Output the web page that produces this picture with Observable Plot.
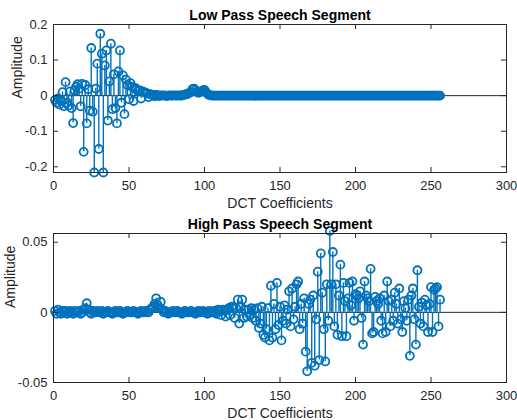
<!DOCTYPE html>
<html><head><meta charset="utf-8">
<script src="https://cdn.jsdelivr.net/npm/d3@7"></script>
<script src="https://cdn.jsdelivr.net/npm/@observablehq/plot@0.6"></script>
<style>body{margin:0;background:#fff;} #chart svg{display:block;}</style>
</head><body><div id="chart"></div>
<script>
const xTicks = [0, 50, 100, 150, 200, 250, 300];
const lowTicks = [-0.2, -0.1, 0, 0.1, 0.2];
const highTicks = [-0.05, 0, 0.05];
const lowTitle = "Low Pass Speech Segment";
const highTitle = "High Pass Speech Segment";
const xLabel = "DCT Coefficients";
const yLabel = "Amplitude";

const lowPass = [
 -0.012, -0.02, -0.008, -0.025, -0.015, 0.01, -0.03, 0.038, -0.02, -0.028,
 0.012, -0.035, -0.077, 0.015, 0.025, 0.032, 0.02, -0.03, 0.033, -0.158,
 0.03, -0.078, 0.018, -0.042, 0.134, -0.045, -0.216, 0.02, 0.09, -0.15,
 0.174, 0.118, -0.216, 0.085, 0.127, -0.07, 0.04, 0.146, -0.038, 0.06,
 -0.035, -0.078, 0.068, 0.127, -0.02, 0.057, -0.052, 0.045, 0.03, -0.01,
 0.035, 0.025, -0.015, 0.022, 0.018, 0.012, 0.015, -0.008, 0.012, 0.01,
 0.008, 0.006, -0.004, 0.004, 0.003, 0.002, -0.002, 0.002, 0.001, -0.001,
 0.001, 0, 0.001, 0, -0.001, 0, 0.001, 0, 0, 0.001,
 0, 0, 0.001, 0, 0, 0.002, 0.003, 0.004, 0.005, 0.008,
 0.01, 0.018, 0.02, 0.015, 0.01, 0.008, 0.01, 0.012, 0.015, 0.016,
 0.01, 0.005, 0.002, 0.001, 0, 0, 0, 0, 0, 0,
 0, 0, 0, 0, 0, 0, 0, 0, 0, 0,
 0, 0, 0, 0, 0, 0, 0, 0, 0, 0,
 0, 0, 0, 0, 0, 0, 0, 0, 0, 0,
 0, 0, 0, 0, 0, 0, 0, 0, 0, 0,
 0, 0, 0, 0, 0, 0, 0, 0, 0, 0,
 0, 0, 0, 0, 0, 0, 0, 0, 0, 0,
 0, 0, 0, 0, 0, 0, 0, 0, 0, 0,
 0, 0, 0, 0, 0, 0, 0, 0, 0, 0,
 0, 0, 0, 0, 0, 0, 0, 0, 0, 0,
 0, 0, 0, 0, 0, 0, 0, 0, 0, 0,
 0, 0, 0, 0, 0, 0, 0, 0, 0, 0,
 0, 0, 0, 0, 0, 0, 0, 0, 0, 0,
 0, 0, 0, 0, 0, 0, 0, 0, 0, 0,
 0, 0, 0, 0, 0, 0, 0, 0, 0, 0,
 0, 0, 0, 0, 0, 0
];

const highPass = [
 0.001, -0.001, 0.002, 0, -0.001, 0.001, 0, 0.001, -0.001, 0,
 0.001, 0, -0.001, 0.001, 0, 0, 0.001, -0.001, 0, 0.002,
 0.003, 0.0065, 0.002, 0, -0.001, 0.001, 0, 0, 0.001, 0,
 0, 0.001, -0.001, 0, 0, 0.001, 0, 0, -0.001, 0,
 0.001, 0, 0, 0.001, 0, -0.001, 0, 0, 0.001, 0,
 0, 0, 0.001, 0, 0, -0.001, 0, 0.001, 0, 0,
 0.001, 0, 0, 0.002, 0.003, 0.004, 0.006, 0.01, 0.005, 0.003,
 0.0075, 0.002, 0, 0.001, 0, -0.001, 0, 0, 0.001, 0,
 0, 0.001, 0, 0, -0.001, 0, 0.001, 0, 0, 0,
 0.001, 0, 0, -0.001, 0, 0.001, 0, 0, 0.001, 0,
 0, -0.001, 0.001, 0, 0, 0.001, 0, -0.001, 0.002, 0.001,
 -0.002, 0.002, 0.001, -0.003, 0.002, 0.003, -0.002, 0.004, 0.003, -0.004,
 0.003, 0.009, -0.008, 0.004, 0.009, -0.004, 0.002, -0.003, 0.002, -0.002,
 0.003, -0.004, 0.002, -0.006, 0.003, -0.011, -0.008, 0.004, -0.016, -0.018,
 -0.012, 0.003, -0.02, 0.019, -0.018, 0.006, -0.012, 0.021, -0.009, 0.004,
 -0.02, -0.006, 0.005, -0.008, 0.002, 0.015, -0.01, 0.017, -0.005, 0.004,
 0.02, 0.022, -0.012, 0.006, -0.008, 0.01, -0.028, -0.042, 0.006, 0.009,
 -0.036, 0.012, -0.038, -0.005, 0.029, -0.034, 0.042, 0.014, -0.012, -0.035,
 0.02, -0.006, 0.058, 0.02, 0.043, -0.01, 0.02, -0.016, 0.012, 0.034,
 -0.017, 0.021, 0.008, -0.017, 0.01, 0.021, 0.005, 0.022, -0.006, 0.013,
 0.012, 0.01, 0.015, -0.004, -0.023, 0.022, 0.012, 0.01, 0.008, 0.031,
 -0.015, -0.014, 0.011, 0.008, 0.006, 0.01, -0.006, -0.015, 0.012, -0.014,
 0.022, 0.008, -0.01, 0.009, -0.006, 0.014, 0.006, -0.008, 0.017, -0.005,
 -0.014, 0.008, 0.003, -0.006, 0.009, -0.031, 0.012, 0.017, -0.005, -0.023,
 0.03, 0.004, -0.008, 0.007, -0.01, 0.009, 0.005, -0.014, 0.006, 0.018,
 -0.014, 0.016, 0.017, 0.018, -0.01, 0.009
];

const blue = "#0072BD";
const ink = "#262626";

function panel({values, yDomain, yTicks, title, marginTop, ylabelDx}) {
  const data = values.map((v, i) => ({k: i + 1, v}));
  const W = 517, H = 210, mL = 53, mR = 11, mB = 38;
  const fw = W - mL - mR, fh = H - marginTop - mB;
  return Plot.plot({
    width: W, height: H,
    marginLeft: mL, marginRight: mR, marginTop, marginBottom: mB,
    style: {fontFamily: "'Liberation Sans', Arial, sans-serif", fontSize: "13px", color: ink, background: "#fff", overflow: "visible"},
    x: {domain: [0, 300]},
    y: {domain: yDomain},
    marks: [
      Plot.ruleY([0], {stroke: ink, strokeWidth: 1}),
      Plot.ruleX(data, {x: "k", y1: 0, y2: "v", stroke: blue, strokeWidth: 1.4}),
      Plot.dot(data, {x: "k", y: "v", r: 4.0, stroke: blue, strokeWidth: 1.8, fill: "none"}),
      Plot.frame({stroke: ink, strokeWidth: 1}),
      Plot.tickX(xTicks, {x: d => d, insetTop: fh - 5, stroke: ink}),
      Plot.tickX(xTicks, {x: d => d, insetBottom: fh - 5, stroke: ink}),
      Plot.tickY(yTicks, {y: d => d, insetRight: fw - 5, stroke: ink}),
      Plot.tickY(yTicks, {y: d => d, insetLeft: fw - 5, stroke: ink}),
      Plot.axisX({ticks: xTicks, tickSize: 0, tickPadding: 8, tickFormat: d => String(d), label: null}),
      Plot.axisY({ticks: yTicks, tickSize: 0, tickPadding: 6, tickFormat: d => String(d), label: null}),
      Plot.text([title], {text: d => d, frameAnchor: "top", lineAnchor: "middle", dy: -9, fontWeight: "bold", fontSize: 14, fill: "#000"}),
      Plot.text([xLabel], {text: d => d, frameAnchor: "bottom", lineAnchor: "middle", dy: 31, fontSize: 14, fill: ink}),
      Plot.text([yLabel], {text: d => d, frameAnchor: "left", lineAnchor: "middle", dx: ylabelDx, rotate: -90, fontSize: 14, fill: ink})
    ]
  });
}

const root = document.getElementById("chart");
root.appendChild(panel({values: lowPass, yDomain: [-0.216, 0.2], yTicks: lowTicks, title: lowTitle, marginTop: 24, ylabelDx: -36}));
root.appendChild(panel({values: highPass, yDomain: [-0.05, 0.0562], yTicks: highTicks, title: highTitle, marginTop: 23, ylabelDx: -43}));
</script>
</body></html>
